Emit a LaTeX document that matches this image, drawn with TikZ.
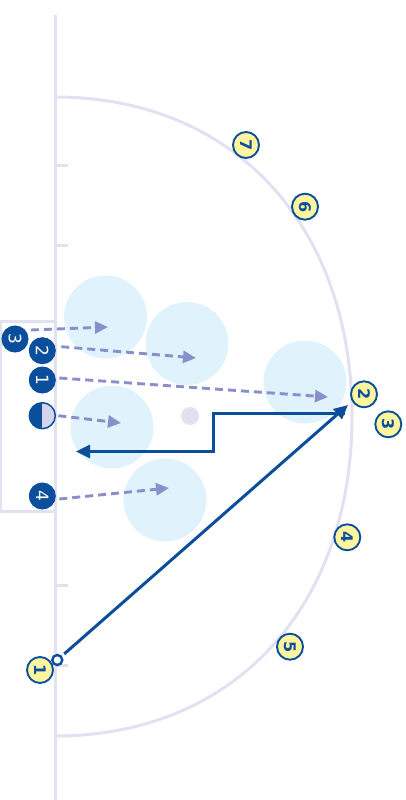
\documentclass[tikz,border=0pt]{standalone}
\usepackage{fontspec}
\setsansfont{DejaVu Sans}
\usetikzlibrary{arrows.meta,calc}
\definecolor{court}{HTML}{E1E1F2}
\definecolor{zone}{HTML}{E0F2FC}
\definecolor{navy}{HTML}{0B4F9C}
\definecolor{pass}{HTML}{8A8ECB}
\definecolor{pale}{HTML}{FFF59E}
\definecolor{halfc}{HTML}{D4D4EC}
\begin{document}
\begin{tikzpicture}[x=1pt,y=-1pt,
  courtline/.style={draw=court,line width=3pt},
  zonec/.style={circle,fill=zone,minimum size=83pt,inner sep=0pt},
  off/.style={circle,fill=navy,draw=navy,line width=1pt,minimum size=26pt,inner sep=0pt,text=white,
    font=\sffamily\fontsize{17}{17}\selectfont,rotate=-90},
  spot/.style={circle,fill=pale,draw=navy,line width=1.9pt,minimum size=26pt,inner sep=0pt,text=navy,
    font=\sffamily\bfseries\fontsize{16}{16}\selectfont,rotate=-90},
  passarrow/.style={draw=pass,line width=2.9pt,dash pattern=on 8pt off 5pt,-{Triangle[length=13pt,width=12pt]}},
  move/.style={draw=navy,line width=3pt,-{Triangle[length=14pt,width=13pt]}}
]
\useasboundingbox (0,0) rectangle (406,800);
% defensive zones
\node[zonec] (z1) at (105.5,317) {};
\node[zonec] (z2) at (187,343.5) {};
\node[zonec] (z3) at (305,382) {};
\node[zonec] (z4) at (112,427) {};
\node[zonec] (z5) at (165,500) {};
% court
\draw[courtline] (0,321) rectangle (55,511);
\draw[courtline] (55,15) -- (55,800);
\draw[courtline] (55,165) -- (68,165);
\draw[courtline] (55,245) -- (68,245);
\draw[courtline] (55,585) -- (68,585);
\draw[courtline] (55,665) -- (68,665);
\draw[courtline] (55,97) .. controls (233.2,97) and (352,224.8) .. (352,416.5)
  .. controls (352,608.2) and (233.2,736) .. (55,736);
\node[circle,fill=court,minimum size=18pt,inner sep=0pt] (hoop) at (190,416) {};
% offensive players
\node[off] (p3) at (15,339) {3};
\node[off] (p2) at (42.3,350.7) {2};
\node[off] (p1) at (42.3,380) {1};
\node[circle,fill=halfc,draw=navy,line width=1.5pt,minimum size=26pt,inner sep=0pt,
  path picture={\fill[navy] (path picture bounding box.north west) rectangle (path picture bounding box.south);}]
  (ph) at (42.3,415.7) {};
\node[off] (p4) at (42.3,496) {4};
% pass targets
\coordinate (e3) at (108,327);
\coordinate (e2) at (196,358);
\coordinate (e1) at (328,397);
\coordinate (eh) at (121,423);
\coordinate (e4) at (169,488);
\draw[passarrow] ($(p3)+(16,-9)$) -- (e3);
\draw[passarrow] ($(p2)+(19,-4)$) -- (e2);
\draw[passarrow] ($(p1)+(17,-2)$) -- (e1);
\draw[passarrow] ($(ph)+(16,0)$) -- (eh);
\draw[passarrow] ($(p4)+(17,3)$) -- (e4);
% movements
\node[circle,fill=white,draw=navy,line width=2.4pt,minimum size=10pt,inner sep=0pt] (oc) at (57.3,660) {};
\coordinate (t1) at (348,405);
\draw[move,shorten <=3pt] (oc) -- (t1);
\coordinate (m0) at (345,413.5);
\coordinate (m1) at (213.5,413.5);
\coordinate (m2) at (213.5,451.5);
\coordinate (t2) at (76,451.5);
\draw[move] (m0) -- (m1) -- (m2) -- (t2);
% spots
\node[spot] (s7) at (246,145) {7};
\node[spot] (s6) at (305,206.7) {6};
\node[spot] (s2) at (364,394.3) {2};
\node[spot] (s3) at (388.3,424.3) {3};
\node[spot] (s4) at (347.3,537.3) {4};
\node[spot] (s5) at (290,646.7) {5};
\node[spot] (s1) at (40,670) {1};
\end{tikzpicture}
\end{document}
